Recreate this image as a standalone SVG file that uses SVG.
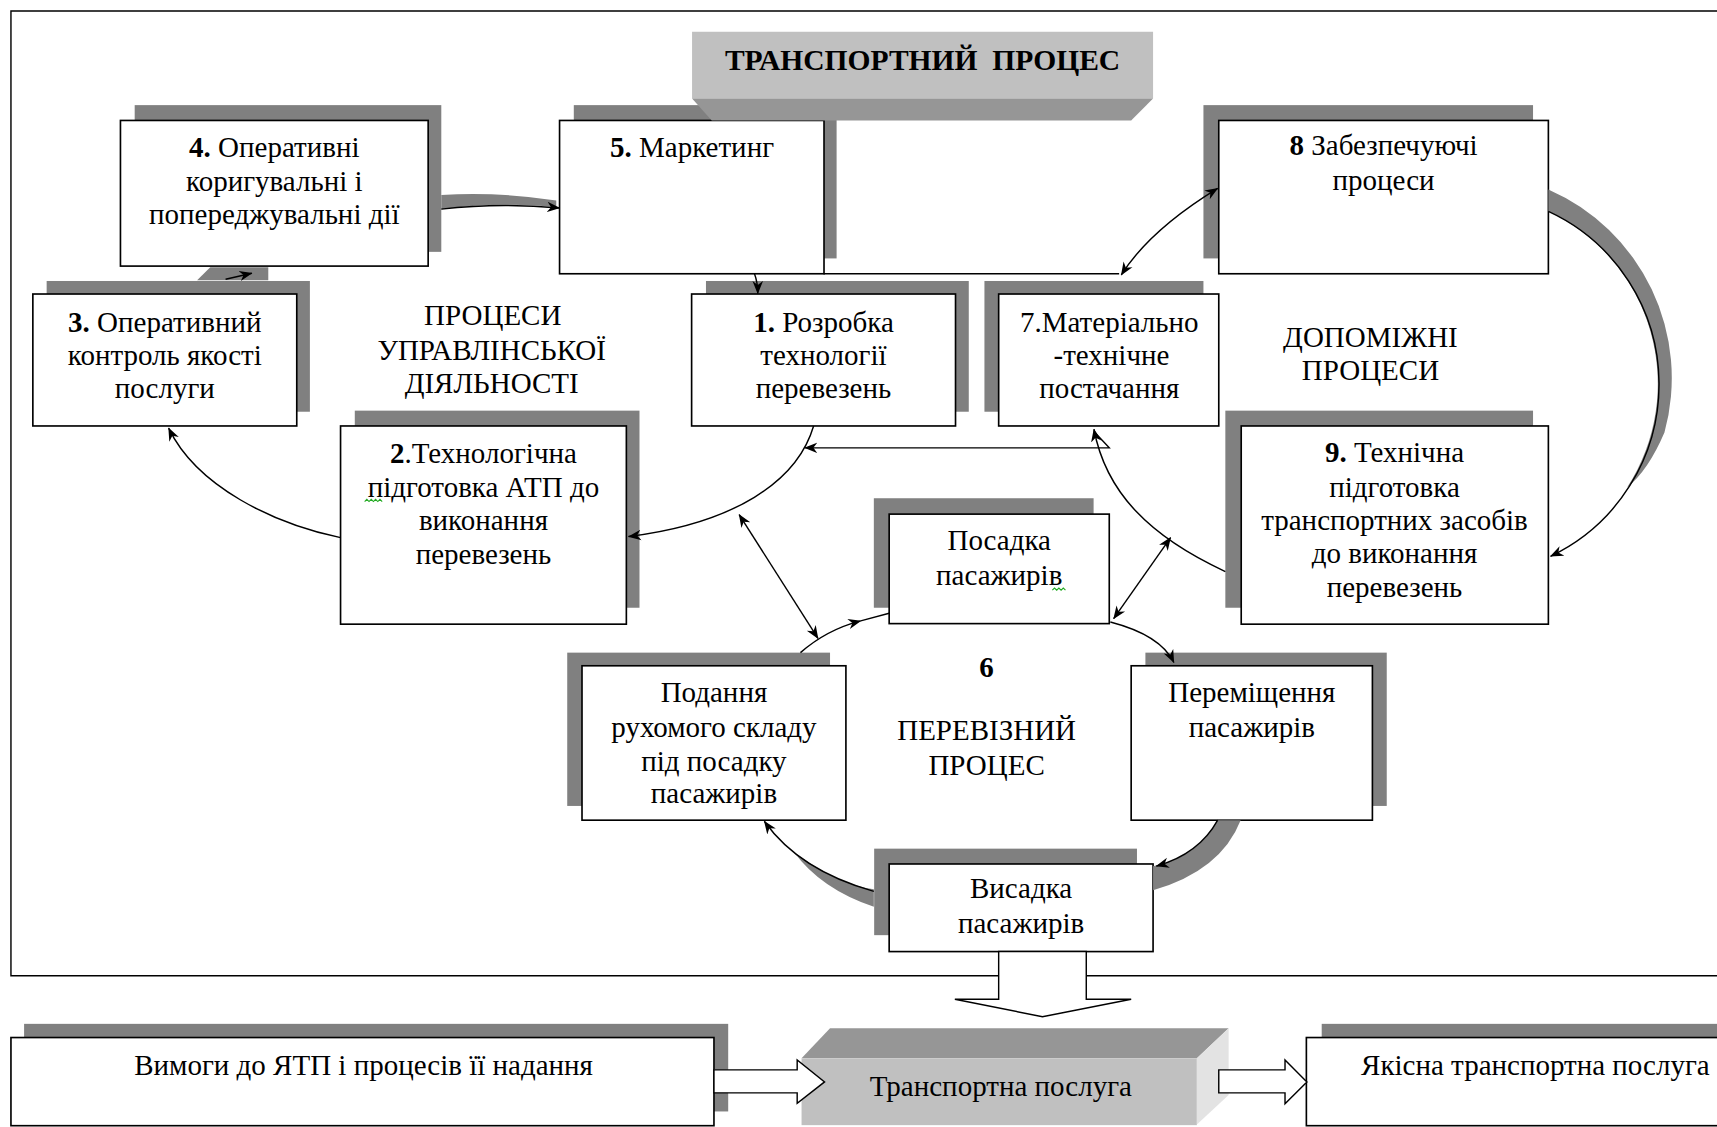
<svg xmlns="http://www.w3.org/2000/svg" width="1717" height="1127" viewBox="0 0 1717 1127">
<defs>
<style>
.sh{fill:#808080}
.bx{fill:#fff;stroke:#000;stroke-width:1.5}
.t{font-family:"Liberation Serif","Times New Roman",serif;font-size:26.5px;fill:#000;text-anchor:middle}
.b{font-weight:bold}
.c{fill:none;stroke:#000;stroke-width:1.3}
.band{fill:#808080}
.wa{fill:#fff;stroke:#000;stroke-width:1.3}
.sq{fill:none;stroke:#2a2;stroke-width:1}
</style>
<marker id="ah" viewBox="0 0 10 10" refX="9.5" refY="5" markerWidth="12" markerHeight="12" markerUnits="userSpaceOnUse" orient="auto-start-reverse"><path d="M0,1 L10,5 L0,9 L3,5 Z" fill="#000"/></marker>
</defs>
<rect width="1717" height="1127" fill="#fff"/>
<g transform="scale(1.09503)">
<path id="frame" d="M1600,10 H10 V891 H1600" fill="none" stroke="#000" stroke-width="1.3"/>

<g id="n4"><rect class="sh" x="123" y="96" width="280" height="134"/><rect class="bx" x="110" y="110" width="281" height="133"/>
<text class="t" x="250.5" y="143"><tspan class="b">4.</tspan> Оперативні</text>
<text class="t" x="250.5" y="174">коригувальні і</text>
<text class="t" x="250.5" y="205">попереджувальні дії</text></g>

<g id="n3"><rect class="sh" x="42.6" y="256.6" width="240.4" height="119.4"/><rect class="bx" x="30" y="268.5" width="241" height="120.5"/>
<text class="t" x="150.5" y="303"><tspan class="b">3.</tspan> Оперативний</text>
<text class="t" x="150.5" y="333">контроль якості</text>
<text class="t" x="150.5" y="363.5">послуги</text></g>

<g id="n5"><rect class="sh" x="524" y="96" width="240" height="140"/><rect class="bx" x="511" y="110" width="241.5" height="140"/>
<text class="t" x="632" y="143"><tspan class="b">5.</tspan> Маркетинг</text></g>

<g id="title"><rect x="632" y="29" width="421" height="61" fill="#c0c0c0"/><polygon points="632,90 1053,90 1033,110 650,110" fill="#969696"/>
<text class="t b" x="842.5" y="64" style="font-size:27px">ТРАНСПОРТНИЙ&#160; ПРОЦЕС</text></g>

<g id="n1"><rect class="sh" x="644.7" y="256.6" width="240" height="119.4"/><rect class="bx" x="631.6" y="268.5" width="241" height="120.5"/>
<text class="t" x="752" y="303"><tspan class="b">1.</tspan> Розробка</text>
<text class="t" x="752" y="333">технології</text>
<text class="t" x="752" y="363.5">перевезень</text></g>

<g id="n7"><rect class="sh" x="899" y="256.6" width="200" height="119.4"/><rect class="bx" x="912" y="268.5" width="201" height="120.5"/>
<text class="t" x="1013" y="303">7.Матеріально</text>
<text class="t" x="1015" y="333">-технічне</text>
<text class="t" x="1013" y="363.5">постачання</text></g>

<g id="n8"><rect class="sh" x="1099" y="96" width="301" height="140"/><rect class="bx" x="1113" y="110" width="301" height="140"/>
<text class="t" x="1263.5" y="141.5"><tspan class="b">8</tspan> Забезпечуючі</text>
<text class="t" x="1263.5" y="173.5">процеси</text></g>

<g id="n2"><rect class="sh" x="324" y="375" width="260" height="180"/><rect class="bx" x="311" y="389" width="261" height="181"/>
<text class="t" x="441.5" y="422.5"><tspan class="b">2</tspan>.Технологічна</text>
<text class="t" x="441.5" y="453.5">підготовка АТП до</text>
<text class="t" x="441.5" y="484">виконання</text>
<text class="t" x="441.5" y="515">перевезень</text>
<path class="sq" d="M333,458 l2,-2 l2,2 l2,-2 l2,2 l2,-2 l2,2 l2,-2 l2,2"/></g>

<g id="n9"><rect class="sh" x="1119" y="375" width="281" height="180"/><rect class="bx" x="1133.5" y="389" width="280.5" height="181"/>
<text class="t" x="1273.5" y="421.6"><tspan class="b">9.</tspan> Технічна</text>
<text class="t" x="1273.5" y="453.5">підготовка</text>
<text class="t" x="1273.5" y="484">транспортних засобів</text>
<text class="t" x="1273.5" y="514.5">до виконання</text>
<text class="t" x="1273.5" y="545">перевезень</text></g>

<g id="posadka"><rect class="sh" x="798" y="455" width="200.7" height="100"/><rect class="bx" x="812" y="469.5" width="201" height="100"/>
<text class="t" x="912.5" y="502">Посадка</text>
<text class="t" x="912.5" y="534">пасажирів</text>
<path class="sq" d="M961,539 l2,-2 l2,2 l2,-2 l2,2 l2,-2 l2,2"/></g>

<g id="podannya"><rect class="sh" x="518" y="596" width="240" height="140"/><rect class="bx" x="531.5" y="608" width="241" height="141"/>
<text class="t" x="652" y="640.7">Подання</text>
<text class="t" x="652" y="673">рухомого складу</text>
<text class="t" x="652" y="703.7">під посадку</text>
<text class="t" x="652" y="733.6">пасажирів</text></g>

<g id="peremishchennya"><rect class="sh" x="1046" y="596" width="220.4" height="140"/><rect class="bx" x="1033" y="608" width="220.3" height="141"/>
<text class="t" x="1143.2" y="640.7">Переміщення</text>
<text class="t" x="1143.2" y="672.7">пасажирів</text></g>

<g id="vysadka"><rect class="sh" x="798.3" y="775" width="240" height="79"/><rect class="bx" x="812" y="789" width="241" height="80"/>
<text class="t" x="932.5" y="820.3">Висадка</text>
<text class="t" x="932.5" y="852.3">пасажирів</text></g>

<g id="labels">
<text class="t" x="450" y="297">ПРОЦЕСИ</text>
<text class="t" x="449" y="329">УПРАВЛІНСЬКОЇ</text>
<text class="t" x="449" y="359">ДІЯЛЬНОСТІ</text>
<text class="t" x="1251.5" y="316.6">ДОПОМІЖНІ</text>
<text class="t" x="1251.5" y="347">ПРОЦЕСИ</text>
<text class="t b" x="901" y="618">6</text>
<text class="t" x="901" y="675.7">ПЕРЕВІЗНИЙ</text>
<text class="t" x="901" y="707.7">ПРОЦЕС</text>
</g>

<g id="vymogy"><rect class="sh" x="22" y="935" width="643" height="80"/><rect class="bx" x="10" y="947.5" width="642" height="80.5"/>
<text class="t" x="332" y="981.6">Вимоги до ЯТП і процесів її надання</text></g>

<g id="transport-service"><polygon points="732,966.5 758,939 1122,939 1093,966.5" fill="#969696"/><rect x="732" y="966.5" width="361" height="61" fill="#c0c0c0"/><polygon points="1093,966.5 1122,939 1122,1000 1093,1027" fill="#e3e3e3"/>
<text class="t" x="914" y="1000.8">Транспортна послуга</text></g>

<g id="quality-service"><rect class="sh" x="1207" y="935" width="400" height="80"/><rect class="bx" x="1193" y="947.5" width="420" height="80.5"/>
<text class="t" x="1243" y="981.6" style="text-anchor:start">Якісна транспортна послуга</text></g>

<g id="connectors">
<polygon class="band" points="180,256 192,244 245,244 245,256"/>
<path class="c" d="M206,255 L230,249.5" marker-end="url(#ah)"/>
<path class="band" d="M403,178 Q456,175 508,183 L508,189 Q456,184 403,191 Z"/>
<path class="c" d="M403,191 Q456,185 511,190" marker-end="url(#ah)"/>
<path class="c" d="M689,250 Q692,258 692,268" marker-end="url(#ah)"/>
<path class="c" d="M752,250 H1022"/>
<path class="c" d="M1024,251 Q1050,210 1112,172" marker-start="url(#ah)" marker-end="url(#ah)"/>
<path class="band" d="M1414,173 A188,188 0 0 1 1520,395 Q1505,430 1486,445 A174,174 0 0 0 1414,193 Z"/>
<path class="c" d="M1414,193 A174,174 0 0 1 1416,508" marker-end="url(#ah)"/>
<path class="c" d="M1119,522 C1050,490 1010,450 999,392" marker-end="url(#ah)"/>
<path class="c" d="M999,394 L1013,409 H735" marker-end="url(#ah)"/>
<path class="c" d="M743,389 C728,440 670,478 574,490" marker-end="url(#ah)"/>
<path class="c" d="M311,491 C250,478 180,445 154,391" marker-end="url(#ah)"/>
<path class="c" d="M675,470 L747,583" marker-start="url(#ah)" marker-end="url(#ah)"/>
<path class="c" d="M1069,491 L1017,565" marker-start="url(#ah)" marker-end="url(#ah)"/>
<path class="c" d="M731,596 Q755,575 786,567" marker-end="url(#ah)"/>
<path class="c" d="M786,567 L812,560"/>
<path class="c" d="M1014,568 Q1060,580 1072,605" marker-end="url(#ah)"/>
<path class="band" d="M1112,749 L1133,749 Q1115,795 1053,813 L1053,791 Q1095,782 1112,749 Z"/>
<path class="c" d="M1112,749 Q1095,780 1056,791" marker-end="url(#ah)"/>
<path class="band" d="M798,812 Q765,808 725,778 Q750,812 798,828 Z"/>
<path class="c" d="M798,814 Q730,795 698,750" marker-end="url(#ah)"/>
<polygon class="wa" points="912,869 912,912.5 872,912.5 952,928.5 1033,912.5 992,912.5 992,869"/>
<polygon class="wa" points="652,977 728,977 728,968 753,988 728,1007.5 728,998 652,998"/>
<polygon class="wa" points="1113,977 1173.5,977 1173.5,968 1193.5,988 1173.5,1008 1173.5,998 1113,998"/>
</g>
</g>
</svg>
